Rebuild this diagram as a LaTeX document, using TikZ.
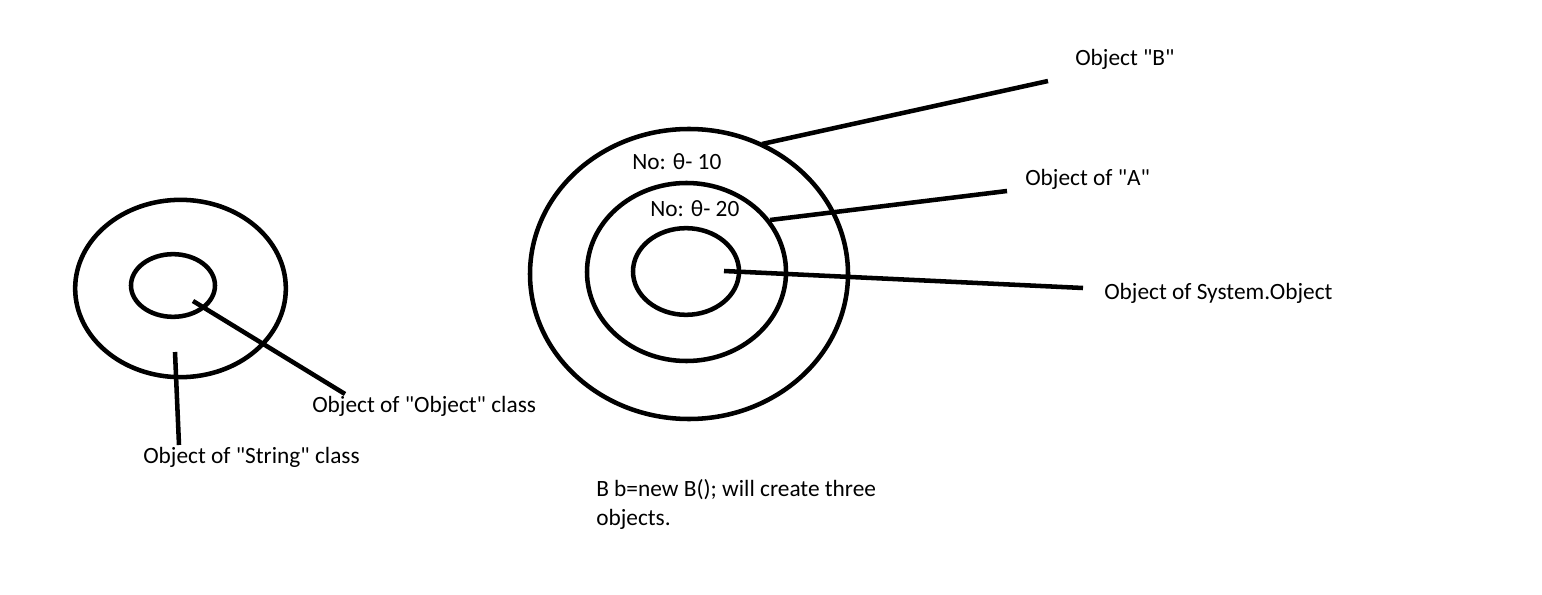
\documentclass[tikz,border=0pt]{standalone}
\usepackage{fontspec}
\setmainfont{Carlito}
\usetikzlibrary{shapes.geometric}
\tikzset{every picture/.style={line width=3.4pt}}

\begin{document}
\begin{tikzpicture}[x=0.75pt, y=-0.75pt, every node/.style={font=\fontsize{17.5}{21.75}\selectfont},
    ring/.style={draw, ellipse, inner sep=0pt},
    lbl/.style={anchor=west, inner sep=0pt}]
        \useasboundingbox (0,0) rectangle (1542,595);
        % left picture
        \node[ring, minimum width=158pt, minimum height=133pt] (strOuter) at (180.5,288.5) {};
        \node[ring, minimum width=63pt,  minimum height=47pt]  (objInner) at (173,285.5) {};
        \node[lbl] (objLbl) at (310,406) {Object of \textquotedbl Object\textquotedbl{} class};
        \node[lbl] (strLbl) at (141,457) {Object of \textquotedbl String\textquotedbl{} class};
        \coordinate (objFrom) at (193,301);
        \coordinate (objTo)   at (345,394);
        \coordinate (strFrom) at (175,352);
        \coordinate (strTo)   at (179,445);
        \draw (objFrom) -- (objTo);
        \draw (strFrom) -- (strTo);
        % right picture
        \node[ring, minimum width=238.5pt, minimum height=217.5pt] (bOuter) at (689,274) {};
        \node[ring, minimum width=149.25pt, minimum height=133.5pt] (aMid) at (686.5,272) {};
        \node[ring, minimum width=79.5pt, minimum height=65pt] (sysInner) at (686,271.5) {};
        \node[lbl] (noB) at (630,162) {No: θ- 10};
        \node[lbl] (noA) at (648,209) {No: θ- 20};
        \node[lbl] (bLbl)   at (1073,59)  {Object \textquotedbl B\textquotedbl};
        \node[lbl] (aLbl)   at (1023,179) {Object of \textquotedbl A\textquotedbl};
        \node[lbl] (sysLbl) at (1102,293) {Object of System.Object};
        \coordinate (bFrom)   at (762,144);
        \coordinate (bTo)     at (1048,81);
        \coordinate (aFrom)   at (770,220);
        \coordinate (aTo)     at (1007,191);
        \coordinate (sysFrom) at (724,271);
        \coordinate (sysTo)   at (1083,288);
        \draw (bFrom) -- (bTo);
        \draw (aFrom) -- (aTo);
        \draw (sysFrom) -- (sysTo);
        \node[lbl, align=left, anchor=north west] (note) at (594,477) {B b=new B(); will create three\\objects.};
    \end{tikzpicture}
\end{document}
